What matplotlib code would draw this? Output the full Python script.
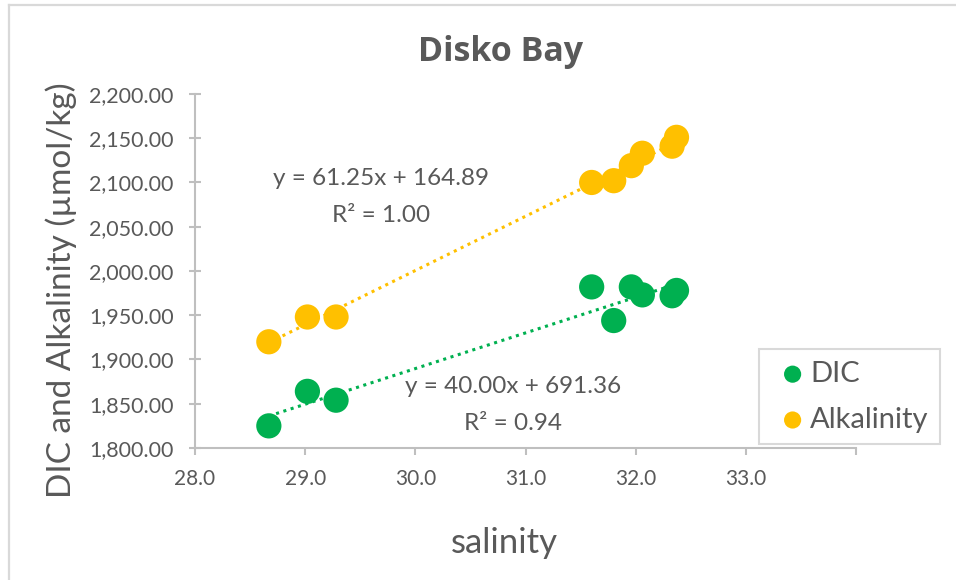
import numpy as np
import matplotlib.pyplot as plt
from matplotlib.lines import Line2D

plt.rcParams['font.family'] = ['Lato', 'DejaVu Sans']

salinity = [28.67, 29.02, 29.28, 31.60, 31.80, 31.96, 32.06, 32.33, 32.37]
dic = [1825, 1864, 1854, 1982, 1944, 1982, 1973, 1972, 1978]
alkalinity = [1920, 1948, 1948, 2100, 2102, 2119, 2133, 2141, 2151]
x_ticks = [28.0, 29.0, 30.0, 31.0, 32.0, 33.0, 34.0]
x_labels = ['28.0', '29.0', '30.0', '31.0', '32.0', '33.0', '']

green = '#00B050'
yellow = '#FFC000'
grey = '#595959'
axis_grey = '#BFBFBF'

fig = plt.figure(figsize=(9.56, 5.8), dpi=100)
ax = fig.add_axes([0.204, 0.2276, 0.6915, 0.6104])

x = np.array(salinity)
for ys, col, lab in [(dic, green, 'DIC'), (alkalinity, yellow, 'Alkalinity')]:
    k, b = np.polyfit(x, ys, 1)
    xs = np.array([x.min(), x.max()])
    ax.plot(xs, k * xs + b, color=col, linestyle=(0, (1, 1.5)), linewidth=2.2, zorder=2)
    ax.scatter(x, ys, s=330, color=col, label=lab, zorder=3, edgecolors='none')

ax.set_xlim(28, 34)
ax.set_ylim(1800, 2200)
ax.set_xticks(x_ticks)
ax.set_xticklabels(x_labels)
ax.set_yticks(np.arange(1800, 2200.1, 50))
ax.set_yticklabels(['{:,.2f}'.format(v) for v in np.arange(1800, 2200.1, 50)])

for s in ['top', 'right']:
    ax.spines[s].set_visible(False)
for s in ['left', 'bottom']:
    ax.spines[s].set_color(axis_grey)
    ax.spines[s].set_linewidth(1.5)
ax.tick_params(axis='y', direction='inout', length=9, width=1.5, color=axis_grey,
               labelsize=15.5, labelcolor=grey, pad=11)
ax.tick_params(axis='x', direction='out', length=5, width=1.5, color=axis_grey,
               labelsize=15, labelcolor=grey, pad=10)

ax.text(29.69, 2105, 'y = 61.25x + 164.89', ha='center', va='center',
        fontsize=17.5, color=grey)
ax.text(29.69, 2063, 'R² = 1.00', ha='center', va='center', fontsize=17.5, color=grey)
ax.text(30.885, 1870, 'y = 40.00x + 691.36', ha='center', va='center', fontsize=17.5, color=grey)
ax.text(30.885, 1828, 'R² = 0.94', ha='center', va='center', fontsize=17.5, color=grey)

fig.text(0.524, 0.8953, 'Disko Bay', ha='center', va='baseline', fontsize=24.5,
         fontweight='bold', color=grey, family=['Open Sans', 'DejaVu Sans'])
fig.text(0.064, 0.5, 'DIC and Alkalinity (µmol/kg)', ha='center', va='center',
         rotation=90, fontsize=24, color=grey)
fig.text(0.528, 0.064, 'salinity', ha='center', va='center', fontsize=25, color=grey)

leg = fig.legend(loc='upper left', bbox_to_anchor=(0.794, 0.398), frameon=True,
                 fancybox=False, fontsize=21, handletextpad=-0.15, markerscale=0.68,
                 labelcolor=grey, borderpad=0.4, labelspacing=0.68,
                 handlelength=1.5, borderaxespad=0, framealpha=1)
leg.get_frame().set_edgecolor('#D9D9D9')
leg.get_frame().set_linewidth(1.5)

# outer chart frame (only top and left edges are visible in the screenshot)
fig.add_artist(Line2D([0.0094, 1.0], [0.9914, 0.9914], color='#D9D9D9', linewidth=1.6))
fig.add_artist(Line2D([0.0094, 0.0094], [0.0, 0.9914], color='#D9D9D9', linewidth=1.6))

fig.savefig('out.png')
